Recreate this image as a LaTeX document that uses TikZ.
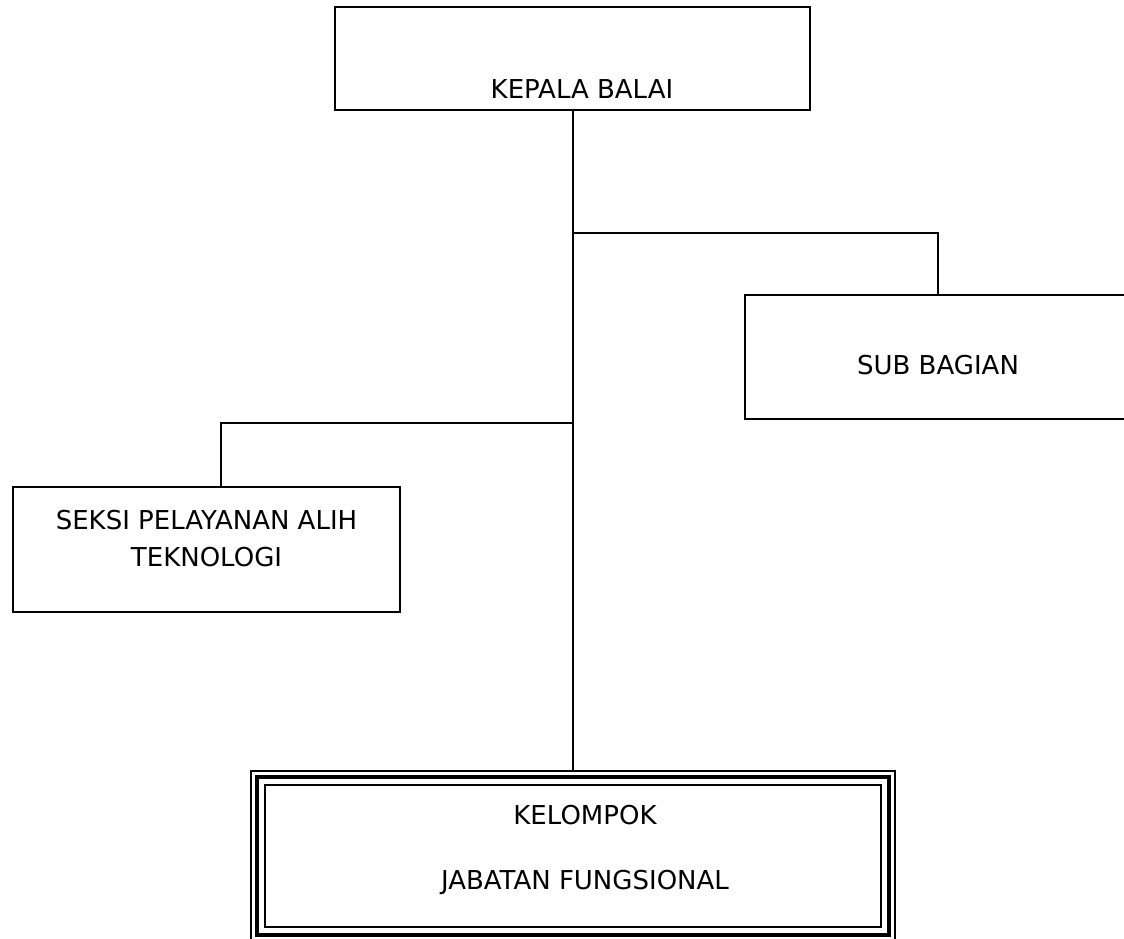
\documentclass[tikz,border=0pt]{standalone}
\usepackage{fontspec}
\setmainfont{DejaVu Sans}
\usepackage{tikz}
\usetikzlibrary{positioning}

\begin{document}
\begin{tikzpicture}[
    x=0.5pt, y=-0.5pt,
    unit/.style={draw, rectangle, line width=1pt, inner sep=0pt, outer sep=0pt},
    caption/.style={align=center, font=\fontsize{13}{18.5}\selectfont},
    link/.style={line width=1pt}
]
\clip (0,0) rectangle (1124,938);

% Nodes
\node (kepala) [unit, minimum width=237.5pt, minimum height=51.5pt, label={[caption, xshift=4.75pt, yshift=-15.25pt]center:KEPALA BALAI}] at (572.5,58.5) {};
\node (subbag) [unit, minimum width=193pt, minimum height=62pt, label={[caption, yshift=-4pt]center:SUB BAGIAN}] at (938,357) {};
\node (seksi) [unit, minimum width=193.5pt, minimum height=62.5pt, label={[caption, yshift=5.5pt]center:{SEKSI PELAYANAN ALIH\\TEKNOLOGI}}] at (206.5,549.5) {};
\node (fungsional) [unit, line width=2pt, minimum width=316pt, minimum height=78.75pt, label={[caption, xshift=6pt, yshift=3.25pt]center:{KELOMPOK\\[14pt]JABATAN FUNGSIONAL}}] at (573,856) {};

% triple frame
\draw [link] ([shift={(-3pt,3pt)}]fungsional.north west) rectangle ([shift={(3pt,-3pt)}]fungsional.south east);
\draw [link] ([shift={(4pt,-4pt)}]fungsional.north west) rectangle ([shift={(-4pt,4pt)}]fungsional.south east);

% Paths
\coordinate (jsub) at (kepala.south |- 0,233);
\coordinate (jseksi) at (kepala.south |- 0,423);
\draw [link] (kepala.south) -- ([yshift=3pt]kepala.south |- fungsional.north);
\draw [link] (jsub) -| (subbag.north);
\draw [link] (jseksi) -| ([xshift=7.25pt]seksi.north);

\end{tikzpicture}
\end{document}
